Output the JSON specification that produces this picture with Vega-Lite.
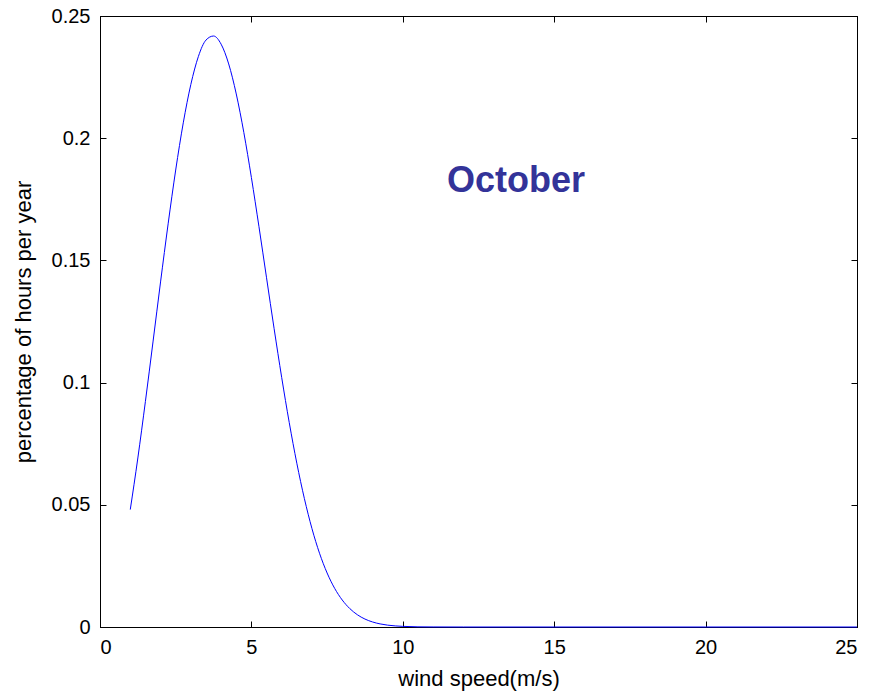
{
  "$schema": "https://vega.github.io/schema/vega-lite/v6.json",
  "width": 757,
  "height": 611,
  "autosize": {"type": "none"},
  "padding": {"left": 100, "top": 16, "right": 14, "bottom": 68},
  "background": "white",
  "config": {
    "view": {"stroke": "black", "strokeWidth": 1},
    "axis": {
      "grid": false,
      "domainColor": "black",
      "tickColor": "black",
      "labelColor": "black",
      "titleColor": "black",
      "labelFont": "Liberation Sans",
      "titleFont": "Liberation Sans",
      "labelFontSize": 20,
      "titleFontSize": 22,
      "titleFontWeight": "normal",
      "tickSize": -6,
      "labelPadding": 16,
      "format": "~g"
    }
  },
  "layer": [
    {
      "data": {
        "values": [
          {"speed": 1, "pct": 0.04805},
          {"speed": 1.25, "pct": 0.06916},
          {"speed": 1.5, "pct": 0.09231},
          {"speed": 1.75, "pct": 0.11663},
          {"speed": 2, "pct": 0.14119},
          {"speed": 2.25, "pct": 0.16496},
          {"speed": 2.5, "pct": 0.18698},
          {"speed": 2.75, "pct": 0.20629},
          {"speed": 3, "pct": 0.22199},
          {"speed": 3.25, "pct": 0.23348},
          {"speed": 3.5, "pct": 0.24015},
          {"speed": 3.75, "pct": 0.24181},
          {"speed": 4, "pct": 0.23847},
          {"speed": 4.25, "pct": 0.23038},
          {"speed": 4.5, "pct": 0.21811},
          {"speed": 4.75, "pct": 0.20232},
          {"speed": 5, "pct": 0.1839},
          {"speed": 5.25, "pct": 0.16378},
          {"speed": 5.5, "pct": 0.14289},
          {"speed": 5.75, "pct": 0.12207},
          {"speed": 6, "pct": 0.10213},
          {"speed": 6.25, "pct": 0.08362},
          {"speed": 6.5, "pct": 0.06701},
          {"speed": 6.75, "pct": 0.05254},
          {"speed": 7, "pct": 0.04026},
          {"speed": 7.25, "pct": 0.03017},
          {"speed": 7.5, "pct": 0.0221},
          {"speed": 7.75, "pct": 0.01581},
          {"speed": 8, "pct": 0.01104},
          {"speed": 8.25, "pct": 0.00753},
          {"speed": 8.5, "pct": 0.00501},
          {"speed": 8.75, "pct": 0.00325},
          {"speed": 9, "pct": 0.00206},
          {"speed": 9.25, "pct": 0.00127},
          {"speed": 9.5, "pct": 0.00076},
          {"speed": 9.75, "pct": 0.00045},
          {"speed": 10, "pct": 0.00026},
          {"speed": 10.5, "pct": 0.00007},
          {"speed": 11, "pct": 0.00002},
          {"speed": 12, "pct": 0},
          {"speed": 15, "pct": 0},
          {"speed": 20, "pct": 0},
          {"speed": 25, "pct": 0}
        ]
      },
      "mark": {"type": "line", "color": "#0000ff", "strokeWidth": 1, "interpolate": "monotone"},
      "encoding": {
        "x": {
          "field": "speed",
          "type": "quantitative",
          "scale": {"domain": [0, 25], "nice": false},
          "axis": {"values": [0, 5, 10, 15, 20, 25], "title": "wind speed(m/s)", "titlePadding": 11}
        },
        "y": {
          "field": "pct",
          "type": "quantitative",
          "scale": {"domain": [0, 0.25], "nice": false},
          "axis": {"values": [0, 0.05, 0.1, 0.15, 0.2, 0.25], "title": "percentage of hours per year", "titlePadding": 16}
        }
      }
    },
    {
      "data": {"values": [{"speed": 13.74, "pct": 0.178, "label": "October"}]},
      "mark": {
        "type": "text",
        "font": "Liberation Sans",
        "fontSize": 36,
        "fontWeight": "bold",
        "color": "#333399",
        "align": "center",
        "baseline": "alphabetic"
      },
      "encoding": {
        "x": {
          "field": "speed",
          "type": "quantitative",
          "scale": {"domain": [0, 25], "nice": false},
          "axis": {"orient": "top", "values": [0, 5, 10, 15, 20, 25], "labels": false, "title": null}
        },
        "y": {
          "field": "pct",
          "type": "quantitative",
          "scale": {"domain": [0, 0.25], "nice": false},
          "axis": {"orient": "right", "values": [0, 0.05, 0.1, 0.15, 0.2, 0.25], "labels": false, "title": null}
        },
        "text": {"field": "label"}
      }
    }
  ],
  "resolve": {"axis": {"x": "independent", "y": "independent"}}
}
